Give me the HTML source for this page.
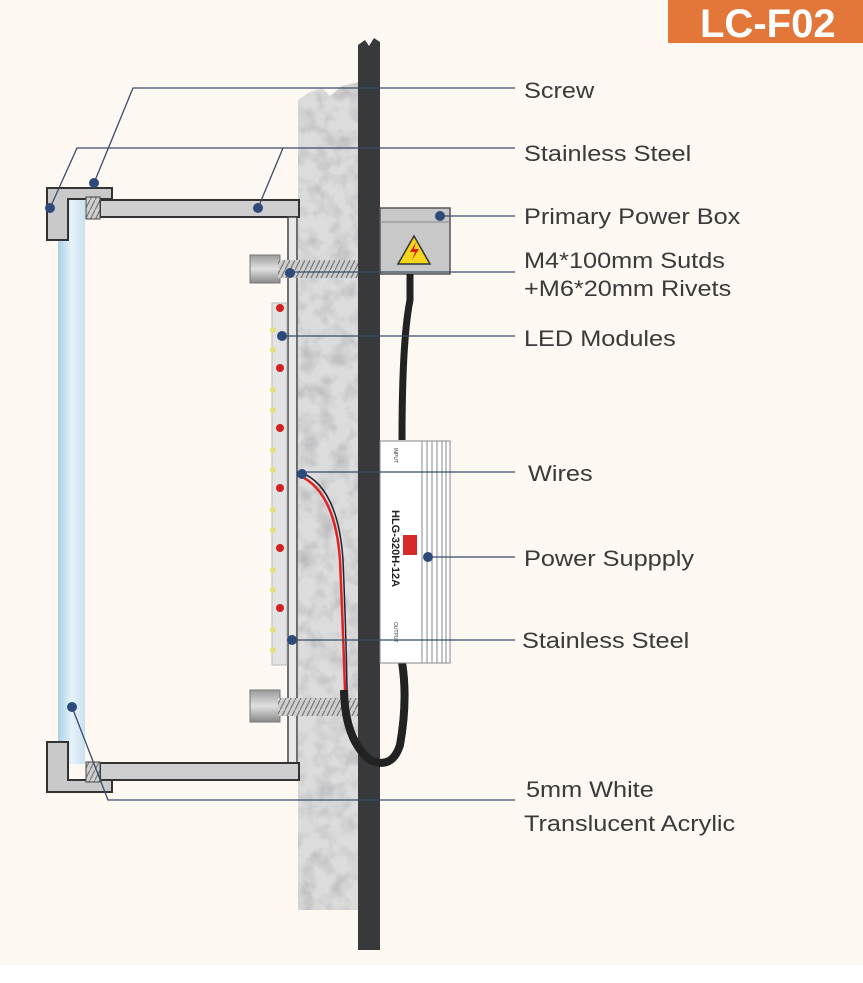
<!DOCTYPE html>
<html><head><meta charset="utf-8"><style>
html,body{margin:0;padding:0;width:863px;height:983px;overflow:hidden;background:#fff}
svg text{font-family:"Liberation Sans",sans-serif;fill:#3a3a3a}
</style></head><body>
<svg width="863" height="983" viewBox="0 0 863 983" xmlns="http://www.w3.org/2000/svg">
<defs>
<linearGradient id="acr" x1="0" x2="1"><stop offset="0" stop-color="#a9cfe6"/><stop offset="0.5" stop-color="#e6f2f9"/><stop offset="1" stop-color="#c9e2f0"/></linearGradient>
<linearGradient id="stud" x1="0" y1="0" x2="0" y2="1"><stop offset="0" stop-color="#9a9a9a"/><stop offset="0.5" stop-color="#e0e0e0"/><stop offset="1" stop-color="#888"/></linearGradient>
<pattern id="thr" width="5" height="10" patternUnits="userSpaceOnUse"><rect width="5" height="10" fill="#cfcfcf"/><line x1="0" y1="10" x2="5" y2="0" stroke="#777" stroke-width="1.2"/></pattern>
<filter id="tex" filterUnits="userSpaceOnUse" x="298" y="82" width="60" height="828"><feTurbulence type="fractalNoise" baseFrequency="0.06" numOctaves="3" seed="4"/><feColorMatrix values="0 0 0 0 0.45  0 0 0 0 0.45  0 0 0 0 0.47  0 0 0 -1.6 0.95"/><feComposite in2="SourceGraphic" operator="in"/></filter>
<clipPath id="cc"><path d="M298 100 L310 92 L322 88 L330 96 L342 86 L358 82 L358 910 L298 910 Z"/></clipPath>
</defs>
<rect width="863" height="983" fill="#fdf8f2"/>
<rect x="0" y="965" width="863" height="18" fill="#fff"/>
<rect x="668" y="0" width="195" height="43" fill="#e3773a"/>
<text x="700" y="37" font-size="40" font-weight="bold" style="fill:#fff">LC-F02</text>
<g clip-path="url(#cc)">
<rect x="298" y="82" width="60" height="828" fill="#dcdcdc"/>
<rect x="298" y="82" width="60" height="828" fill="#000" filter="url(#tex)"/>
</g>
<path d="M358 45 L365 40 L369 46 L374 38 L380 42 L380 950 L358 950 Z" fill="#38393b"/>
<rect x="58" y="198" width="27" height="566" fill="url(#acr)"/>
<path d="M47 188 L112 188 L112 199 L68 199 L68 240 L47 240 Z" fill="#c9c9c9" stroke="#333" stroke-width="2"/>
<rect x="100" y="200" width="199" height="17" fill="#cfcfcf" stroke="#333" stroke-width="2"/>
<rect x="86" y="197" width="14" height="22" fill="url(#thr)" stroke="#444"/>
<rect x="288" y="217" width="9" height="553" fill="#e8e8e8" stroke="#444" stroke-width="1.5"/>
<rect x="100" y="763" width="199" height="17" fill="#cfcfcf" stroke="#333" stroke-width="2"/>
<path d="M47 742 L68 742 L68 780 L112 780 L112 792 L47 792 Z" fill="#c9c9c9" stroke="#333" stroke-width="2"/>
<rect x="86" y="762" width="14" height="20" fill="url(#thr)" stroke="#444"/>
<rect x="250" y="255" width="30" height="28" fill="url(#stud)" stroke="#777"/>
<rect x="278" y="260" width="80" height="18" fill="url(#thr)"/>
<rect x="250" y="690" width="30" height="32" fill="url(#stud)" stroke="#777"/>
<rect x="278" y="698" width="80" height="18" fill="url(#thr)"/>
<rect x="272" y="303" width="15" height="362" fill="#e3e3e3" stroke="#bbb"/>
<g fill="#d42020">
<circle cx="280" cy="308" r="4"/><circle cx="280" cy="368" r="4"/><circle cx="280" cy="428" r="4"/><circle cx="280" cy="488" r="4"/><circle cx="280" cy="548" r="4"/><circle cx="280" cy="608" r="4"/></g>
<g fill="#e0e27a"><circle cx="273" cy="330" r="3"/><circle cx="273" cy="350" r="3"/><circle cx="273" cy="390" r="3"/><circle cx="273" cy="410" r="3"/><circle cx="273" cy="450" r="3"/><circle cx="273" cy="470" r="3"/><circle cx="273" cy="510" r="3"/><circle cx="273" cy="530" r="3"/><circle cx="273" cy="570" r="3"/><circle cx="273" cy="590" r="3"/><circle cx="273" cy="630" r="3"/><circle cx="273" cy="650" r="3"/></g>
<rect x="380" y="208" width="70" height="66" fill="#c8c8c8" stroke="#555" stroke-width="1.5"/>
<line x1="380" y1="222" x2="450" y2="222" stroke="#888"/>
<path d="M414 236 L430 264 L398 264 Z" fill="#f4d71c" stroke="#333" stroke-width="1.5"/>
<path d="M416 242 L410 252 L415 252 L412 260 L419 249 L414 249 Z" fill="#e02020"/>
<path d="M410 274 L410 300 Q402 340 402 440" fill="none" stroke="#222" stroke-width="7"/>
<path d="M402 662 Q408 700 400 745 Q392 770 370 760 Q345 740 344 690" fill="none" stroke="#222" stroke-width="8"/>
<path d="M298 475 Q335 490 340 560 Q343 630 345 690" fill="none" stroke="#e02222" stroke-width="2.5"/>
<path d="M300 472 Q338 486 343 560 Q346 630 347 690" fill="none" stroke="#223" stroke-width="1.5"/>
<rect x="380" y="441" width="70" height="222" fill="#fff" stroke="#888"/>
<g stroke="#888" stroke-width="1"><line x1="422" y1="441" x2="422" y2="663"/><line x1="427" y1="441" x2="427" y2="663"/><line x1="432" y1="441" x2="432" y2="663"/><line x1="437" y1="441" x2="437" y2="663"/><line x1="442" y1="441" x2="442" y2="663"/><line x1="446" y1="441" x2="446" y2="663"/></g>
<rect x="403" y="535" width="14" height="20" fill="#d62a2a"/>
<text x="0" y="0" font-size="11" font-weight="bold" transform="translate(392,510) rotate(90)" style="fill:#222">HLG-320H-12A</text>
<text font-size="5" transform="translate(394,448) rotate(90)">INPUT</text>
<text font-size="5" transform="translate(394,622) rotate(90)">OUTPUT</text>
<g stroke="#3c4a6a" stroke-width="1.3" fill="none">
<polyline points="94,183 133,88 515,88"/>
<polyline points="50,208 77,148 515,148"/>
<polyline points="258,208 283,148"/>
<line x1="440" y1="216" x2="515" y2="216"/>
<line x1="290" y1="272" x2="515" y2="272"/>
<line x1="282" y1="336" x2="515" y2="336"/>
<line x1="300" y1="472" x2="515" y2="472"/>
<line x1="428" y1="557" x2="515" y2="557"/>
<line x1="292" y1="640" x2="515" y2="640"/>
<polyline points="72,707 108,800 515,800"/>
</g>
<g fill="#2d4a7a">
<circle cx="94" cy="183" r="5"/><circle cx="50" cy="208" r="5"/><circle cx="258" cy="208" r="5"/><circle cx="440" cy="216" r="5"/><circle cx="290" cy="273" r="5"/><circle cx="282" cy="336" r="5"/><circle cx="302" cy="474" r="5"/><circle cx="428" cy="557" r="5"/><circle cx="292" cy="640" r="5"/><circle cx="72" cy="707" r="5"/></g>
<g font-size="22" transform="translate(524,0) scale(1.15,1)">
<text x="0" y="98">Screw</text>
<text x="0" y="161">Stainless Steel</text>
<text x="0" y="224">Primary Power Box</text>
<text x="0" y="268">M4*100mm Sutds</text>
<text x="0" y="296">+M6*20mm  Rivets</text>
<text x="0" y="346">LED Modules</text>
<text x="3.5" y="481">Wires</text>
<text x="0" y="566">Power  Suppply</text>
<text x="-1.7" y="648">Stainless Steel</text>
<text x="1.7" y="797">5mm White</text>
<text x="0" y="831">Translucent Acrylic</text>
</g>
</svg>
</body></html>
